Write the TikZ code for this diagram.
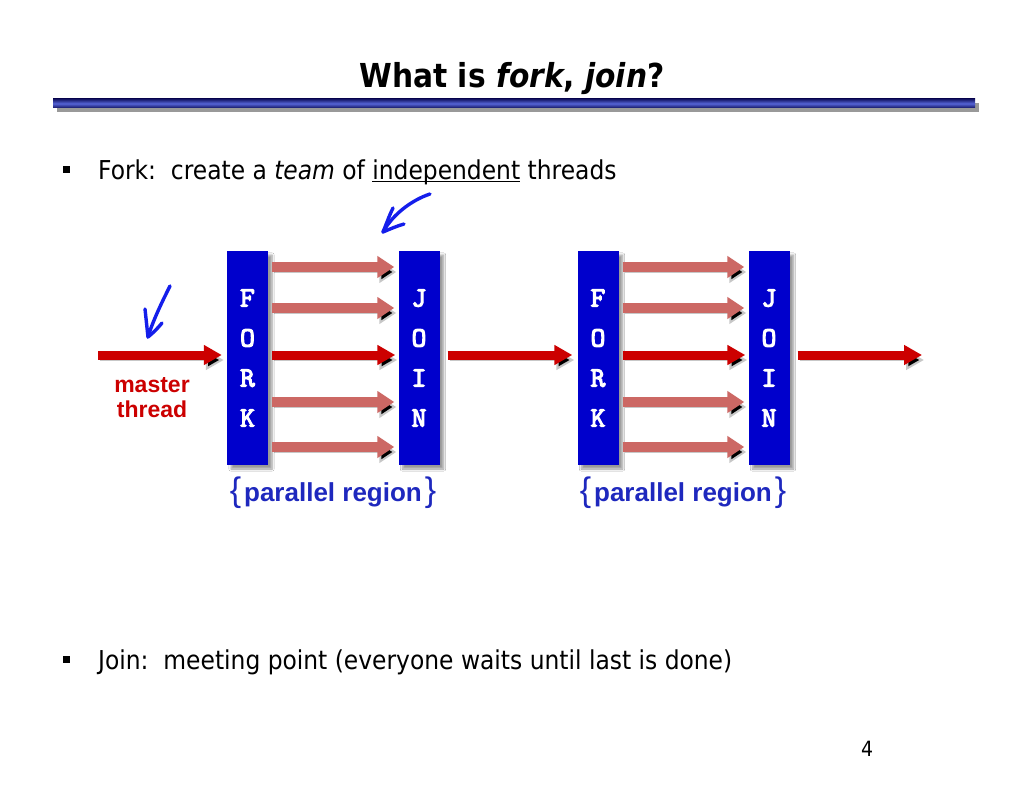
\documentclass[tikz,border=0pt]{standalone}
\usepackage{fontspec}
\setmainfont{DejaVu Sans Condensed}
\newfontfamily\arialf{Liberation Sans}
\newfontfamily\courf{lmmono10-regular.otf}[FakeBold=4]
\usetikzlibrary{arrows.meta,shadows.blur}
\definecolor{boxblue}{RGB}{0,0,204}
\definecolor{thrred}{RGB}{204,0,0}
\definecolor{thrpink}{RGB}{204,104,100}
\definecolor{txtblue}{RGB}{30,40,190}
\definecolor{penblue}{RGB}{20,30,235}
\definecolor{barnavy}{RGB}{20,20,100}
\definecolor{barmid}{RGB}{85,100,215}
\begin{document}
\begin{tikzpicture}[x=1pt,y=-1pt,
  fjbox/.style={fill=boxblue, minimum width=41pt, minimum height=214pt, inner sep=0pt,
     text=white, align=center, font=\courf\fontsize{28}{40}\selectfont,
     blur shadow={shadow xshift=4pt, shadow yshift=-4pt, shadow blur steps=6, shadow opacity=40}},
  shadowpath/.style={preaction={draw=black, draw opacity=0.22, transform canvas={shift={(2pt,-5pt)}}}},
  thr/.style={shadowpath, line width=10pt, draw=thrpink, -{Triangle[length=17pt,width=21pt]}},
  main/.style={shadowpath, line width=9pt, draw=thrred, -{Triangle[length=18pt,width=19pt]}},
  pen/.style={draw=penblue, line width=3.4pt, line cap=round, line join=round},
  bodytext/.style={anchor=base west, font=\fontsize{26}{30}\selectfont, inner sep=0pt},
  bullet/.style={fill=black, minimum size=7pt, inner sep=0pt},
  preg/.style={text=txtblue, font=\arialf\bfseries\fontsize{26}{30}\selectfont, inner sep=0pt},
]
\useasboundingbox (0,0) rectangle (1024,791);
\fill[white] (0,0) rectangle (1024,791);

% title
\node[anchor=base, font=\bfseries\fontsize{33}{40}\selectfont, inner sep=0pt] (title) at (512,88)
  {What is \textit{fork}, \textit{join}?};
\fill[black!40] (57,103) rectangle (979,112);
\shade[top color=barnavy, bottom color=barnavy, middle color=barmid] (53,99) rectangle (975,108);

% bullets
\node[bullet] (b1) at (66,170) {};
\node[bodytext] (t1) at (98,180) {Fork:\ \ create a \textit{team} of \underline{\smash{independent}} threads};
\node[bullet] (b2) at (66,659) {};
\node[bodytext] (t2) at (98,669) {Join:\ \ meeting point (everyone waits until last is done)};
\node[anchor=base, font=\fontsize{21}{24}\selectfont, inner sep=0pt] (pg) at (867,756) {4};

% boxes
\node[fjbox] (f1) at (247.5,358) {F\\O\\R\\K};
\node[fjbox] (j1) at (419,358) {J\\O\\I\\N};
\node[fjbox] (f2) at (598,358) {F\\O\\R\\K};
\node[fjbox] (j2) at (769,358) {J\\O\\I\\N};

% threads
\foreach \a/\b in {f1/j1, f2/j2}{
  \foreach \s in {91,50,-44,-89}{
    \draw[thr] ([xshift=4pt,yshift=\s pt]\a.east) -- ([xshift=-4pt,yshift=\s pt]\b.west);
  }
  \draw[main] ([xshift=4pt,yshift=3pt]\a.east) -- ([xshift=-3pt,yshift=3pt]\b.west);
}
\coordinate (start) at (98,355);
\coordinate (finish) at (922,355);
\draw[main] (start) -- ([xshift=-5pt,yshift=3pt]f1.west);
\draw[main] ([xshift=8pt,yshift=3pt]j1.east) -- ([xshift=-5pt,yshift=3pt]f2.west);
\draw[main] ([xshift=8pt,yshift=3pt]j2.east) -- (finish);

% labels
\node[text=thrred, font=\arialf\bfseries\fontsize{23}{25}\selectfont, align=center, inner sep=0pt, anchor=base] (mt) at (152,417) {master\\thread};
\node[preg] (p1) at (333,493) {{\mdseries\fontsize{34}{34}\selectfont\{}\kern3pt parallel region\kern3pt{\mdseries\fontsize{34}{34}\selectfont\}}};
\node[preg] (p2) at (683,493) {{\mdseries\fontsize{34}{34}\selectfont\{}\kern3pt parallel region\kern3pt{\mdseries\fontsize{34}{34}\selectfont\}}};

% handwritten marks
\draw[pen] (170,286) .. controls (164,298) and (153,320) .. (148,337);
\draw[pen] (145,309) .. controls (146,318) and (147,328) .. (148,337) .. controls (153,333) and (158,328) .. (162,323);
\draw[pen] (430,194) .. controls (412,200) and (393,214) .. (383,232);
\draw[pen] (393,208) .. controls (389,216) and (386,225) .. (383,232) .. controls (390,229) and (397,226) .. (404,224);
\end{tikzpicture}
\end{document}
